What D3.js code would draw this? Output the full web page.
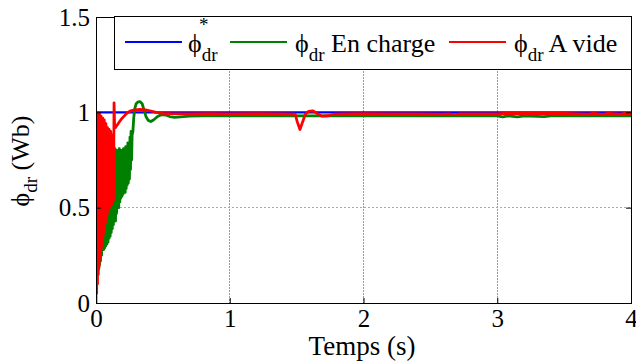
<!DOCTYPE html>
<html>
<head>
<meta charset="utf-8">
<script src="https://cdn.jsdelivr.net/npm/d3@7"></script>
</head>
<body style="margin:0;padding:0;background:#fff">
<svg id="chart" width="636" height="362" font-family="Liberation Serif" style="display:block"></svg>
<script>
// ---------------- data ----------------
const xTicks = [0, 1, 2, 3, 4];
const yTicks = [0, 0.5, 1, 1.5];
const xTickLabels = ["0", "1", "2", "3", "4"];
const yTickLabels = ["0", "0.5", "1", "1.5"];

const seriesNames = ["ref", "charge", "vide"];

// reference flux phi*_dr
const tRef = [0, 4];
const phiRef = [1, 1];

// phi_dr, loaded ("En charge")
const tCharge = [0, 0.003, 0.006, 0.009, 0.012, 0.015, 0.018, 0.021, 0.024, 0.027, 0.030, 0.034, 0.038, 0.042, 0.046, 0.050, 0.054, 0.058, 0.062, 0.066, 0.070, 0.074, 0.078, 0.082, 0.086, 0.090, 0.094, 0.098, 0.102, 0.106, 0.110, 0.114, 0.118, 0.122, 0.126, 0.130, 0.134, 0.138, 0.142, 0.146, 0.150, 0.154, 0.158, 0.162, 0.166, 0.170, 0.174, 0.178, 0.182, 0.186, 0.190, 0.194, 0.198, 0.202, 0.206, 0.210, 0.214, 0.218, 0.222, 0.226, 0.230, 0.234, 0.238, 0.242, 0.246, 0.250, 0.254, 0.258, 0.262, 0.266, 0.270, 0.276, 0.282, 0.290, 0.300, 0.315, 0.330, 0.345, 0.360, 0.375, 0.390, 0.410, 0.430, 0.460, 0.490, 0.520, 0.550, 0.590, 0.630, 0.700, 0.800, 1.000, 1.300, 1.600, 2.000, 2.400, 2.800, 3.000, 3.040, 3.080, 3.150, 3.200, 3.350, 3.400, 3.700, 4.000];
const phiCharge = [0.86, 0.2, 0.85, 0.16, 0.8, 0.17, 0.84, 0.18, 0.8, 0.2, 0.82, 0.22, 0.78, 0.25, 0.8, 0.28, 0.77, 0.28, 0.79, 0.29, 0.76, 0.3, 0.78, 0.31, 0.75, 0.32, 0.78, 0.34, 0.76, 0.35, 0.79, 0.37, 0.77, 0.39, 0.8, 0.41, 0.78, 0.43, 0.81, 0.43, 0.79, 0.47, 0.8, 0.5, 0.78, 0.5, 0.81, 0.53, 0.79, 0.55, 0.8, 0.56, 0.77, 0.57, 0.81, 0.58, 0.79, 0.58, 0.82, 0.6, 0.8, 0.62, 0.84, 0.63, 0.82, 0.65, 0.87, 0.7, 0.9, 0.75, 0.88, 0.9, 0.97, 1.02, 1.045, 1.055, 1.056, 1.045, 1.01, 0.975, 0.958, 0.952, 0.96, 0.978, 0.988, 0.986, 0.978, 0.974, 0.976, 0.98, 0.982, 0.981, 0.982, 0.981, 0.981, 0.982, 0.981, 0.981, 0.976, 0.981, 0.976, 0.981, 0.977, 0.981, 0.982, 0.982];

// phi_dr, no load ("A vide")
const tVide = [0, 0.002, 0.005, 0.008, 0.011, 0.014, 0.017, 0.020, 0.023, 0.026, 0.029, 0.032, 0.035, 0.038, 0.041, 0.044, 0.047, 0.050, 0.053, 0.056, 0.059, 0.062, 0.065, 0.068, 0.071, 0.074, 0.077, 0.080, 0.083, 0.086, 0.089, 0.092, 0.095, 0.098, 0.101, 0.104, 0.107, 0.110, 0.113, 0.116, 0.119, 0.122, 0.125, 0.128, 0.131, 0.135, 0.139, 0.145, 0.155, 0.170, 0.190, 0.210, 0.230, 0.260, 0.290, 0.330, 0.370, 0.410, 0.450, 0.500, 0.560, 0.700, 0.850, 1.000, 1.200, 1.400, 1.490, 1.505, 1.525, 1.545, 1.565, 1.590, 1.620, 1.650, 1.690, 1.730, 1.780, 1.850, 2.000, 2.200, 2.400, 2.600, 2.640, 2.680, 2.720, 3.000, 3.050, 3.500, 3.680, 3.720, 3.790, 3.830, 3.920, 3.950, 4.000];
const phiVide = [0, 1.0, 0.05, 0.99, 0.1, 1.0, 0.15, 0.97, 0.19, 0.99, 0.23, 0.96, 0.26, 0.98, 0.29, 0.95, 0.32, 0.97, 0.35, 0.94, 0.37, 0.96, 0.4, 0.92, 0.42, 0.94, 0.44, 0.9, 0.46, 0.92, 0.48, 0.89, 0.49, 0.91, 0.5, 0.88, 0.51, 0.9, 0.52, 0.87, 0.52, 0.88, 0.53, 0.86, 0.54, 1.05, 0.93, 0.92, 0.93, 0.945, 0.965, 0.98, 0.995, 1.008, 1.013, 1.015, 1.013, 1.007, 1.0, 0.995, 0.993, 0.992, 0.993, 0.992, 0.993, 0.992, 0.99, 0.95, 0.91, 0.95, 0.99, 1.005, 1.008, 0.995, 0.98, 0.982, 0.99, 0.992, 0.993, 0.992, 0.992, 0.99, 0.992, 0.988, 0.992, 0.992, 0.994, 0.994, 0.99, 0.994, 0.989, 0.994, 0.99, 0.994, 0.994];

// ---------------- chart ----------------
const FONT = "Liberation Serif";
const svg = d3.select("#chart");
const L = 96, R = 631, T = 17, B = 303;

svg.append("rect").attr("width", 636).attr("height", 362).attr("fill", "#fff");

const x = d3.scaleLinear().domain([0, 4]).range([L, R]);
const y = d3.scaleLinear().domain([0, 1.5]).range([B, T]);

// grid
const grid = svg.append("g");
grid.selectAll("line.gx").data(xTicks.slice(1, -1)).join("line")
  .attr("x1", d => x(d)).attr("x2", d => x(d)).attr("y1", T).attr("y2", B)
  .attr("stroke", "#9a9a9a").attr("stroke-width", 1).attr("stroke-dasharray", "2,1")
  .attr("shape-rendering", "crispEdges");
grid.selectAll("line.gy").data(yTicks.slice(1, -1)).join("line")
  .attr("x1", L).attr("x2", R).attr("y1", d => y(d)).attr("y2", d => y(d))
  .attr("stroke", "#a8a8a8").attr("stroke-width", 1).attr("stroke-dasharray", "2,2")
  .attr("shape-rendering", "crispEdges");

// lines
const line = d3.line().x(d => x(d[0])).y(d => y(d[1]));
const zip = (a, b) => a.map((t, i) => [t, b[i]]);
const series = [
  { name: seriesNames[0], data: zip(tRef, phiRef), color: "#0000ff", w: 2.2 },
  { name: seriesNames[1], data: zip(tCharge, phiCharge), color: "#008000", w: 2.8 },
  { name: seriesNames[2], data: zip(tVide, phiVide), color: "#ff0000", w: 2.8 }
];
svg.append("defs").append("clipPath").attr("id", "clip")
  .append("rect").attr("x", L).attr("y", T - 2).attr("width", R - L).attr("height", B - T + 2);
svg.append("g").attr("clip-path", "url(#clip)")
  .selectAll("path").data(series).join("path")
  .attr("d", d => line(d.data))
  .attr("fill", "none").attr("stroke", d => d.color).attr("stroke-width", d => d.w)
  .attr("stroke-linejoin", "round");

// axes box
svg.append("rect").attr("x", L).attr("y", T).attr("width", R - L).attr("height", B - T)
  .attr("fill", "none").attr("stroke", "#000").attr("stroke-width", 1).attr("shape-rendering", "crispEdges");

// axes with d3 (ticks inward)
const xAxisB = d3.axisBottom(x).tickValues(xTicks).tickFormat((d, i) => xTickLabels[i]).tickSizeInner(-5).tickSizeOuter(0).tickPadding(6);
const xAxisT = d3.axisTop(x).tickValues(xTicks).tickFormat("").tickSizeInner(-5).tickSizeOuter(0);
const yAxisL = d3.axisLeft(y).tickValues(yTicks).tickFormat((d, i) => yTickLabels[i]).tickSizeInner(-5).tickSizeOuter(0).tickPadding(6);
const yAxisR = d3.axisRight(y).tickValues(yTicks).tickFormat("").tickSizeInner(-5).tickSizeOuter(0);

function styleAxis(g, fs) {
  g.attr("font-family", FONT).attr("font-size", fs);
  g.select(".domain").remove();
  g.selectAll(".tick line").attr("stroke", "#000");
  g.selectAll(".tick text").attr("font-family", FONT).attr("font-size", fs).attr("fill", "#000");
}
svg.append("g").attr("transform", `translate(0,${B})`).call(xAxisB).call(g => styleAxis(g, 25));
svg.append("g").attr("transform", `translate(0,${T})`).call(xAxisT).call(g => styleAxis(g, 25));
svg.append("g").attr("transform", `translate(${L},0)`).call(yAxisL).call(g => styleAxis(g, 25));
svg.append("g").attr("transform", `translate(${R},0)`).call(yAxisR).call(g => styleAxis(g, 25));

// axis labels
svg.append("text").attr("x", 362).attr("y", 355).attr("text-anchor", "middle")
  .attr("font-family", FONT).attr("font-size", 27).text("Temps (s)");

const yl = svg.append("text").attr("transform", "translate(29,161) rotate(-90)")
  .attr("text-anchor", "middle").attr("font-family", FONT).attr("font-size", 26);
yl.append("tspan").text("\u03D5");
yl.append("tspan").attr("font-size", 19).attr("dy", 8).text("dr");
yl.append("tspan").attr("dy", -8).text(" (Wb)");

// legend
const lg = svg.append("g");
lg.append("rect").attr("x", 114).attr("y", 16).attr("width", R - 114).attr("height", 53)
  .attr("fill", "#fff").attr("stroke", "#000").attr("stroke-width", 1).attr("shape-rendering", "crispEdges");
const legendItems = [
  { color: "#0000ff", x1: 125, x2: 182, tx: 188, label: "", star: true },
  { color: "#008000", x1: 230, x2: 287, tx: 295, label: " En charge", star: false },
  { color: "#ff0000", x1: 449, x2: 506, tx: 514, label: " A vide", star: false }
];
legendItems.forEach(it => {
  lg.append("line").attr("x1", it.x1).attr("x2", it.x2).attr("y1", 42).attr("y2", 42)
    .attr("stroke", it.color).attr("stroke-width", 2.2);
  const t = lg.append("text").attr("x", it.tx).attr("y", 52).attr("font-family", FONT).attr("font-size", 26);
  t.append("tspan").text("\u03D5");
  t.append("tspan").attr("font-size", 19).attr("dy", 9).text("dr");
  if (it.label) t.append("tspan").attr("dy", -9).text(it.label);
  if (it.star) lg.append("text").attr("x", it.tx + 11).attr("y", 31).attr("font-family", FONT).attr("font-size", 19).text("*");
});
</script>
</body>
</html>
